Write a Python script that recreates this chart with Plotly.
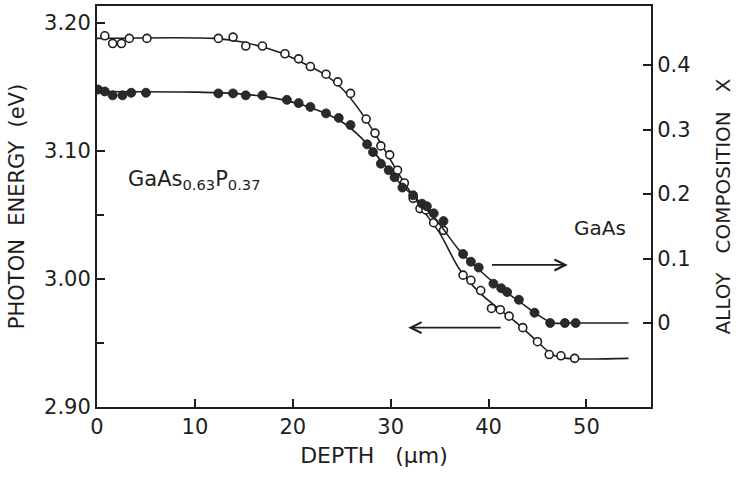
import plotly.graph_objects as go

# ---- data ----
# open circles: photon energy (left axis, eV)
depth_open = [0.8, 1.6, 2.5, 3.3, 5.1, 12.4, 13.9, 15.2, 16.9, 19.2, 20.6, 21.8, 23.4, 24.6,
              25.9, 27.5, 28.4, 29.0, 29.9, 30.7, 31.4, 32.3, 33.0, 33.6, 34.4, 35.4,
              37.4, 38.2, 39.2, 40.3, 41.2, 42.1, 43.5, 45.0, 46.2, 47.4, 48.8]
energy_open = [3.190, 3.184, 3.184, 3.188, 3.188, 3.188, 3.189, 3.182, 3.182, 3.176, 3.172,
               3.166, 3.160, 3.154, 3.145, 3.125, 3.114, 3.104, 3.097, 3.085, 3.075, 3.063,
               3.055, 3.054, 3.044, 3.038, 3.003, 2.999, 2.991, 2.977, 2.976, 2.971, 2.962,
               2.951, 2.941, 2.940, 2.938]

# filled circles: alloy composition x (right axis)
depth_fill = [0.1, 0.8, 1.6, 2.6, 3.5, 5.0, 12.4, 13.9, 15.2, 16.9, 19.4, 20.6, 21.8, 23.4,
              24.7, 25.9, 27.6, 28.2, 29.0, 29.8, 30.4, 31.2, 32.3, 33.2, 33.7, 34.4, 35.4,
              37.4, 38.2, 39.0, 40.5, 41.3, 41.9, 43.1, 44.7, 46.3, 47.8, 48.9]
comp_fill = [0.362, 0.359, 0.353, 0.353, 0.357, 0.357, 0.356, 0.356, 0.353, 0.353, 0.346,
             0.341, 0.335, 0.325, 0.318, 0.307, 0.277, 0.265, 0.247, 0.237, 0.226, 0.210,
             0.198, 0.185, 0.181, 0.170, 0.158, 0.107, 0.095, 0.086, 0.061, 0.054, 0.048,
             0.036, 0.016, 0.000, 0.000, 0.000]

# smooth fitted curves drawn through the data
curve_open_x = [0, 12, 15, 17, 19, 21, 23, 25, 27, 29, 31, 33, 35, 37, 39, 41, 43, 45, 46.5, 48, 54.3]
curve_open_y = [3.188, 3.188, 3.185, 3.181, 3.176, 3.169, 3.161, 3.149, 3.130, 3.106, 3.080,
                3.057, 3.036, 3.008, 2.990, 2.977, 2.965, 2.951, 2.941, 2.938, 2.938]
curve_fill_x = [0, 10, 14, 18, 22, 25, 27, 29, 31, 33, 35, 37, 39, 41, 43, 45, 46.5, 48, 54.3]
curve_fill_y = [0.359, 0.358, 0.356, 0.349, 0.333, 0.312, 0.287, 0.252, 0.216, 0.187, 0.153,
                0.113, 0.083, 0.057, 0.035, 0.013, 0.0, 0.0, 0.0]

x_ticks = [0, 10, 20, 30, 40, 50]
e_ticks = [2.90, 3.00, 3.10, 3.20]
e_labels = ["2.90", "3.00", "3.10", "3.20"]
c_ticks = [0, 0.1, 0.2, 0.3, 0.4]
c_labels = ["0", "0.1", "0.2", "0.3", "0.4"]

INK = "#1e1e1e"
FONT = "DejaVu Sans"

fig = go.Figure()

fig.add_trace(go.Scatter(x=curve_open_x, y=curve_open_y, mode="lines",
                         line=dict(color=INK, width=1.6, shape="spline", smoothing=0.8),
                         hoverinfo="skip", showlegend=False))
fig.add_trace(go.Scatter(x=curve_fill_x, y=curve_fill_y, yaxis="y2", mode="lines",
                         line=dict(color=INK, width=1.6, shape="spline", smoothing=0.8),
                         hoverinfo="skip", showlegend=False))
fig.add_trace(go.Scatter(x=depth_open, y=energy_open, mode="markers",
                         marker=dict(symbol="circle", size=8, color="white",
                                     line=dict(color=INK, width=1.6)),
                         name="Photon energy", showlegend=False))
fig.add_trace(go.Scatter(x=depth_fill, y=comp_fill, yaxis="y2", mode="markers",
                         marker=dict(symbol="circle", size=9, color="#2a2a2a",
                                     line=dict(color=INK, width=0.8)),
                         name="Alloy composition", showlegend=False))

axis_common = dict(showgrid=False, zeroline=False, showline=True, linecolor=INK,
                   linewidth=2, ticks="inside", ticklen=8, tickwidth=1.6, tickcolor=INK,
                   automargin=False,
                   tickfont=dict(family=FONT, size=21, color=INK))

fig.update_layout(
    width=738, height=478,
    margin=dict(l=97, r=87, t=6, b=71),
    paper_bgcolor="white", plot_bgcolor="white",
    font=dict(family=FONT, color=INK),
    xaxis=dict(range=[0, 56.6], tickvals=x_ticks, mirror=True, ticklabelstandoff=0,
               title=dict(text="DEPTH\u00a0\u00a0\u00a0(\u03bcm)", font=dict(family=FONT, size=22, color=INK),
                          standoff=9),
               **axis_common),
    yaxis=dict(range=[2.90, 3.2133], tickvals=e_ticks, ticktext=e_labels, ticklabelstandoff=0,
               minor=dict(tickvals=[2.95, 3.05], ticks="inside", ticklen=7, tickwidth=1.6, tickcolor=INK),
               title=dict(text="PHOTON\u00a0\u00a0ENERGY\u00a0\u00a0(eV)", font=dict(family=FONT, size=21, color=INK),
                          standoff=14),
               **axis_common),
    yaxis2=dict(range=[-0.1302, 0.4915], tickvals=c_ticks, ticktext=c_labels, overlaying="y",
                side="right", ticklabelstandoff=0,
                title=dict(text="ALLOY\u00a0\u00a0\u00a0COMPOSITION\u00a0\u00a0\u00a0X", font=dict(family=FONT, size=20, color=INK),
                           standoff=26),
                **axis_common),
)

fig.add_annotation(x=3.0, y=3.077, xref="x", yref="y", xanchor="left", yanchor="middle",
                   text="GaAs<sub>0.63</sub>P<sub>0.37</sub>", showarrow=False,
                   font=dict(family=FONT, size=21, color=INK))
fig.add_annotation(x=51.4, y=3.040, xref="x", yref="y", xanchor="center", yanchor="middle",
                   text="GaAs", showarrow=False, font=dict(family=FONT, size=20, color=INK))

# arrows pointing towards the axis each data set refers to
fig.add_annotation(x=48.1, y=3.011, ax=40.2, ay=3.011, xref="x", yref="y", axref="x", ayref="y",
                   text="", showarrow=True, arrowhead=5, arrowsize=1.2, arrowwidth=1.8, arrowcolor=INK)
fig.add_annotation(x=31.8, y=2.962, ax=41.4, ay=2.962, xref="x", yref="y", axref="x", ayref="y",
                   text="", showarrow=True, arrowhead=5, arrowsize=1.2, arrowwidth=1.8, arrowcolor=INK)

fig.write_html("out.html", config={"displayModeBar": False},
               post_script="document.body.style.margin='0';")
